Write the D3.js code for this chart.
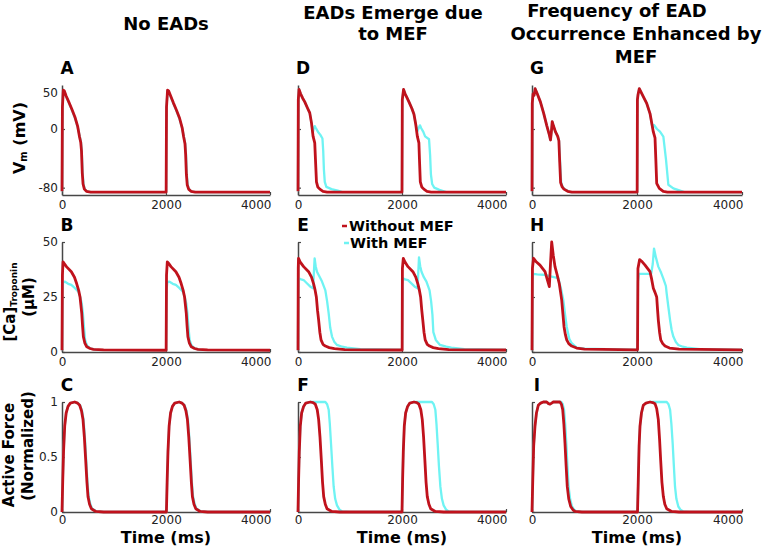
<!DOCTYPE html>
<html>
<head>
<meta charset="utf-8">
<script src="https://cdn.jsdelivr.net/npm/d3@7"></script>
<style>
  body { margin: 0; background: #fff; }
  text { font-family: "DejaVu Sans", sans-serif; }
</style>
</head>
<body>
<svg id="chart" width="767" height="546"></svg>
<script>
// ---- data ----
const timeTicks = [0, 2000, 4000]
const timeDomain = [0, 4000]
const vmDomain = [-90, 60]
const vmTicks = [-80, 0, 50]
const caDomain = [0, 50]
const caTicks = [0, 25, 50]
const forceDomain = [0, 1]
const forceTicks = [0, 0.5, 1]

const columnTitles = [
  ["No EADs"],
  ["EADs Emerge due", "to MEF"],
  ["Frequency of EAD", "Occurrence Enhanced by", "MEF"]
]
const panelLetters = [["A", "B", "C"], ["D", "E", "F"], ["G", "H", "I"]]
const legendLabels = ["Without MEF", "With MEF"]

// [time ms, Vm mV]
const vmNoEadRed = [[0,-85],[8,30],[25,53],[45,52],[80,45],[130,37],[190,27],[250,16],[300,4],[335,-10],[360,-18],[375,-30],[390,-60],[405,-75],[430,-82],[470,-85],[550,-86],
  [2003,-86],[2010,30],[2030,53],[2050,52],[2090,45],[2140,36],[2200,26],[2260,15],[2310,2],[2340,-11],[2365,-20],[2378,-35],[2392,-62],[2408,-76],[2435,-82],[2480,-85],[2560,-86],[4000,-86]]
const vmNoEadCyan = [[0,-85],[8,30],[25,52],[45,51],[80,44],[130,36],[190,26],[250,15],[300,3],[340,-10],[365,-18],[380,-30],[397,-60],[415,-76],[445,-83],[490,-85.5],[570,-86],
  [2003,-86],[2010,30],[2030,52],[2050,51],[2090,44],[2140,35],[2200,25],[2260,14],[2310,1],[2345,-11],[2370,-20],[2385,-35],[2400,-62],[2418,-77],[2450,-83],[2500,-85.5],[2580,-86],[4000,-86]]
const vmEmergeRed = [[0,-85],[6,40],[20,54],[50,48],[90,42],[130,37],[180,29],[226,22],[260,8],[290,-10],[322,-19],[335,-40],[355,-72],[380,-79],[420,-82],[480,-85],[560,-86],
  [2000,-86],[2006,40],[2030,54],[2060,48],[2100,42],[2140,36],[2190,28],[2230,20],[2265,6],[2295,-10],[2325,-19],[2335,-40],[2352,-72],[2380,-79],[2420,-82],[2480,-85],[2560,-86],[4000,-86]]
const vmEmergeCyan = [[0,-85],[6,40],[20,54],[50,48],[90,42],[130,37],[180,29],[226,22],[260,8],[285,-5],[300,0],[322,4],[345,1],[386,-4],[430,-8],[470,-13],[485,-30],[498,-55],[515,-72],[545,-79],[645,-82],[765,-84],[850,-86],
  [2000,-86],[2006,40],[2030,54],[2060,48],[2100,42],[2140,36],[2190,28],[2230,20],[2265,6],[2295,-3],[2320,1],[2345,5],[2370,1],[2410,-4],[2444,-10],[2520,-14],[2540,-35],[2556,-62],[2580,-75],[2620,-80],[2720,-83],[2850,-86],[4000,-86]]
const vmEnhancedRed = [[0,-85],[5,35],[20,48],[40,46],[60,55],[100,48],[160,37],[224,21],[280,5],[330,-8],[352,-15],[368,-5],[385,10],[410,4],[448,-4],[490,-10],[512,-16],[528,-45],[545,-73],[575,-79],[608,-82],[680,-85],[760,-86],
  [2003,-86],[2008,40],[2020,47],[2044,55],[2120,44],[2185,35],[2248,21],[2311,-4],[2343,-12],[2358,-40],[2375,-74],[2425,-81],[2500,-85],[2580,-86],[4000,-86]]
const vmEnhancedCyan = [[0,-85],[5,35],[20,48],[40,46],[60,55],[100,48],[160,37],[224,21],[280,5],[330,-8],[352,-15],[368,-5],[385,10],[410,4],[448,-4],[490,-10],[515,-16],[535,-45],[555,-73],[590,-80],[640,-83],[720,-86],
  [2003,-86],[2008,40],[2020,47],[2044,55],[2120,44],[2185,35],[2248,21],[2295,2],[2324,5.5],[2380,0],[2438,-3.6],[2502,-10.5],[2553,-42],[2597,-76],[2692,-81],[2820,-84],[2900,-86],[4000,-86]]

// [time ms, [Ca]Troponin uM]
const caNoEadRed = [[0,0.8],[8,35],[20,41],[50,40],[85,38.8],[180,36.5],[240,34],[283,31],[320,28],[347,25],[365,21],[380,17.6],[395,12],[411,7],[440,4],[476,2.4],[540,1.6],[604,1.2],[800,1],
  [2003,0.8],[2010,35],[2025,41],[2060,40],[2095,38.8],[2190,36.5],[2250,34],[2293,31],[2330,28],[2357,25],[2375,21],[2390,17.6],[2405,12],[2421,7],[2450,4],[2486,2.4],[2550,1.6],[2614,1.2],[2800,1],[4000,0.8]]
const caNoEadCyan = [[0,0.8],[8,28],[20,31.5],[50,32],[120,31],[180,30.5],[250,29],[315,27.4],[350,25],[380,22],[400,18],[420,12],[444,5.5],[480,3],[540,1.7],[650,1],
  [2003,0.8],[2010,28],[2025,31.5],[2060,32],[2130,31],[2190,30.5],[2260,29],[2325,27.4],[2360,25],[2390,22],[2410,18],[2430,12],[2454,5.5],[2490,3],[2550,1.7],[2660,1],[4000,0.8]]
const caEmergeRed = [[0,0.8],[5,38],[10,42.6],[40,41],[108,38.8],[204,36.5],[260,34],[300,31],[330,28],[353,25],[375,19],[397,14.5],[420,9],[443,5.5],[480,3.5],[526,2.7],[600,2],[700,1.5],[900,1.1],
  [2003,0.9],[2008,38],[2025,42.6],[2055,41],[2115,38.8],[2210,36.5],[2265,34],[2305,31],[2335,28],[2358,25],[2380,19],[2400,14.5],[2423,9],[2446,5.5],[2485,3.5],[2530,2.7],[2600,2],[2700,1.5],[2900,1.1],[4000,0.9]]
const caEmergeCyan = [[0,0.8],[5,30],[10,33.5],[60,33],[108,32.7],[180,31],[237,29.7],[290,29],[305,36],[320,42.6],[340,39],[365,36.5],[420,34],[462,32],[526,28],[560,23],[590,17.6],[620,11],[654,7],[700,4.5],[750,3.2],[850,2.4],[940,2],[1200,1.3],
  [2003,1],[2008,30],[2013,33.5],[2060,33],[2115,32.7],[2190,31],[2245,29.7],[2300,29],[2313,36],[2327,43],[2350,39],[2375,36.5],[2420,34],[2470,32],[2530,28],[2560,23],[2585,17],[2603,9],[2650,5.5],[2731,3.2],[2850,2.4],[2950,2],[3200,1.3],[4000,1]]
const caEnhancedRed = [[0,0.8],[8,38],[30,42.6],[80,41],[152,39.5],[200,38],[248,36.5],[290,33],[330,29.7],[352,40],[375,50],[405,44],[438,38.8],[480,35],[520,31],[545,27],[566,23.6],[590,17],[610,11.5],[635,8],[661,5.5],[700,3.8],[756,2.7],[850,1.8],[1000,1.3],
  [2010,1],[2018,38],[2050,42],[2100,41],[2153,39.5],[2200,38],[2248,36.5],[2280,33],[2311,29],[2345,27],[2375,25],[2392,19],[2406,14.5],[2430,9],[2452,5.5],[2490,3.8],[2534,2.7],[2620,1.8],[2800,1.3],[4000,1]]
const caEnhancedCyan = [[0,0.8],[8,32],[20,35.5],[100,35.3],[270,35],[330,34.5],[420,34],[500,33.6],[550,29],[596,23.6],[630,17],[661,11.5],[710,6],[756,4],[851,2],[1000,1.5],
  [2010,1],[2018,32],[2035,35.5],[2150,35.5],[2270,35.5],[2300,40],[2324,47],[2360,43],[2406,38.8],[2460,36],[2500,33.5],[2550,30],[2565,26.7],[2600,20],[2630,14.5],[2660,10],[2692,7],[2740,4.5],[2787,3.2],[2870,2.4],[2950,2],[3200,1.3],[4000,1]]

// [time ms, normalized active force]
const forceNoEadRed = [[0,0],[15,0.3],[30,0.55],[52,0.78],[80,0.9],[116,0.96],[160,0.99],[245,1],[300,0.99],[340,0.97],[375,0.92],[404,0.84],[430,0.68],[456,0.47],[480,0.27],[500,0.14],[530,0.07],[565,0.03],[650,0.005],[800,0],
  [2008,0],[2023,0.3],[2038,0.55],[2060,0.78],[2088,0.9],[2124,0.96],[2168,0.99],[2253,1],[2308,0.99],[2348,0.97],[2383,0.92],[2412,0.84],[2438,0.68],[2464,0.47],[2488,0.27],[2508,0.14],[2538,0.07],[2573,0.03],[2658,0.005],[2800,0],[4000,0]]
const forceNoEadCyan = [[0,0],[15,0.3],[30,0.55],[52,0.78],[80,0.9],[116,0.96],[160,0.99],[245,1],[305,0.99],[350,0.97],[385,0.92],[414,0.84],[440,0.68],[466,0.47],[490,0.27],[512,0.14],[545,0.07],[580,0.03],[665,0.005],[820,0],
  [2008,0],[2023,0.3],[2038,0.55],[2060,0.78],[2088,0.9],[2124,0.96],[2168,0.99],[2253,1],[2313,0.99],[2358,0.97],[2393,0.92],[2422,0.84],[2448,0.68],[2474,0.47],[2498,0.27],[2520,0.14],[2552,0.07],[2588,0.03],[2672,0.005],[2820,0],[4000,0]]
const forceEmergeRed = [[0,0],[12,0.3],[25,0.55],[44,0.78],[70,0.9],[108,0.96],[150,0.99],[237,1],[290,0.995],[333,0.98],[370,0.93],[397,0.84],[423,0.68],[449,0.47],[472,0.27],[494,0.14],[525,0.07],[558,0.03],[650,0.005],[800,0],
  [2000,0],[2012,0.3],[2025,0.55],[2044,0.78],[2070,0.9],[2108,0.96],[2150,0.99],[2230,1],[2285,0.995],[2325,0.98],[2362,0.93],[2390,0.84],[2415,0.68],[2440,0.47],[2463,0.27],[2486,0.14],[2518,0.07],[2552,0.03],[2640,0.005],[2800,0],[4000,0]]
const forceEmergeCyan = [[0,0],[12,0.3],[25,0.55],[44,0.78],[70,0.9],[108,0.96],[150,0.99],[237,1],[400,1],[526,1],[560,0.98],[590,0.93],[612,0.8],[635,0.62],[660,0.42],[686,0.23],[715,0.12],[750,0.06],[800,0.02],[850,0.005],[1000,0],
  [2000,0],[2012,0.3],[2025,0.55],[2044,0.78],[2070,0.9],[2108,0.96],[2150,0.99],[2230,1],[2400,1],[2577,1],[2610,0.98],[2641,0.93],[2663,0.8],[2686,0.62],[2710,0.42],[2738,0.23],[2768,0.12],[2801,0.06],[2850,0.02],[2900,0.005],[3050,0],[4000,0]]
const forceEnhancedRed = [[0,0],[15,0.3],[32,0.6],[57,0.78],[85,0.9],[120,0.97],[165,0.99],[215,1],[280,1],[315,0.985],[343,0.98],[375,0.99],[406,1],[480,1],[533,1],[560,0.98],[585,0.93],[607,0.8],[629,0.62],[650,0.42],[672,0.23],[700,0.12],[737,0.05],[780,0.02],[819,0.005],[950,0],
  [2010,0],[2025,0.3],[2040,0.6],[2057,0.78],[2085,0.9],[2120,0.97],[2170,0.99],[2248,1],[2300,0.995],[2343,0.985],[2375,0.94],[2406,0.84],[2430,0.66],[2451,0.47],[2475,0.27],[2502,0.14],[2530,0.07],[2566,0.03],[2660,0.005],[2800,0],[4000,0]]
const forceEnhancedCyan = [[0,0],[15,0.3],[32,0.6],[57,0.78],[85,0.9],[120,0.97],[165,0.99],[215,1],[280,1],[315,0.985],[343,0.98],[375,0.99],[406,1],[480,1],[560,1],[585,0.98],[610,0.93],[632,0.8],[654,0.62],[675,0.42],[697,0.23],[725,0.12],[762,0.05],[805,0.02],[845,0.005],[980,0],
  [2010,0],[2025,0.3],[2040,0.6],[2057,0.78],[2085,0.9],[2120,0.97],[2170,0.99],[2248,1],[2400,1],[2566,1],[2600,0.98],[2630,0.93],[2655,0.8],[2680,0.62],[2702,0.42],[2724,0.23],[2750,0.12],[2787,0.05],[2830,0.02],[2880,0.005],[3000,0],[4000,0]]

// ---- layout ----
const RED = "#c0121c"
const CYAN = "#6ff3f3"
const AXIS = "#474747"

const cols = [
  { x0: 62, w: 208 },
  { x0: 298, w: 208 },
  { x0: 532, w: 210 }
]
const rows = [
  { top: 85, bottom: 195, domain: vmDomain, ticks: vmTicks },
  { top: 242, bottom: 352, domain: caDomain, ticks: caTicks },
  { top: 402, bottom: 512, domain: forceDomain, ticks: forceTicks }
]
const traces = [
  [[vmNoEadRed, vmNoEadCyan], [caNoEadRed, caNoEadCyan], [forceNoEadRed, forceNoEadCyan]],
  [[vmEmergeRed, vmEmergeCyan], [caEmergeRed, caEmergeCyan], [forceEmergeRed, forceEmergeCyan]],
  [[vmEnhancedRed, vmEnhancedCyan], [caEnhancedRed, caEnhancedCyan], [forceEnhancedRed, forceEnhancedCyan]]
]

// plain hyphen minus like the original figure
const plainNum = d => String(d)

const svg = d3.select("#chart")

cols.forEach((c, ci) => {
  const x = d3.scaleLinear().domain(timeDomain).range([c.x0, c.x0 + c.w])

  rows.forEach((r, ri) => {
    const y = d3.scaleLinear().domain(r.domain).range([r.bottom, r.top])
    const g = svg.append("g")

    // x axis
    const xa = g.append("g")
      .attr("transform", "translate(0," + r.bottom + ")")
      .call(d3.axisBottom(x).tickValues(timeTicks).tickFormat(plainNum)
        .tickSizeInner(-3).tickSizeOuter(0).tickPadding(ri === 2 ? 3 : 5))
    xa.selectAll("text")
      .attr("font-size", 12).attr("fill", "#222")
      .attr("text-anchor", (d, i) => i === timeTicks.length - 1 ? "end" : "middle")
      .attr("dx", (d, i) => i === timeTicks.length - 1 ? 1 : 0)

    // y axis
    const ya = g.append("g")
      .attr("transform", "translate(" + c.x0 + ",0)")
      .call(d3.axisLeft(y).tickValues(r.ticks)
        .tickFormat(ci === 0 ? plainNum : "")
        .tickSizeInner(-3).tickSizeOuter(0).tickPadding(4))
    ya.selectAll("text").attr("font-size", 12).attr("fill", "#222")

    g.selectAll(".domain").attr("stroke", AXIS).attr("stroke-width", 1.5)
    g.selectAll(".tick line").attr("stroke", AXIS).attr("stroke-width", 1.2)

    const line = d3.line().x(d => x(d[0])).y(d => y(d[1]))
    const [redData, cyanData] = traces[ci][ri]

    g.append("path").datum(cyanData)
      .attr("d", line).attr("fill", "none")
      .attr("stroke", CYAN).attr("stroke-width", 2.3).attr("stroke-linejoin", "round")
    g.append("path").datum(redData)
      .attr("d", line).attr("fill", "none")
      .attr("stroke", RED).attr("stroke-width", 2.8).attr("stroke-linejoin", "round")

    // panel letter
    svg.append("text")
      .attr("x", c.x0 + 5).attr("y", r.top - 11)
      .attr("text-anchor", "middle")
      .attr("font-size", 17).attr("font-weight", "bold")
      .text(panelLetters[ci][ri])
  })

  // bottom axis title
  svg.append("text")
    .attr("x", x(2000)).attr("y", 543)
    .attr("text-anchor", "middle")
    .attr("font-size", 16).attr("font-weight", "bold")
    .text("Time (ms)")
})

// column titles
const titlePos = [
  [[166, 30]],
  [[393, 19], [393, 40]],
  [[617, 17], [636, 40], [636, 63]]
]
columnTitles.forEach((lines, ci) => {
  lines.forEach((t, li) => {
    svg.append("text")
      .attr("x", titlePos[ci][li][0]).attr("y", titlePos[ci][li][1])
      .attr("text-anchor", "middle")
      .attr("font-size", 18).attr("font-weight", "bold")
      .text(t)
  })
})

// y axis titles (rotated)
const vmLabel = svg.append("text")
  .attr("transform", "translate(19,138) rotate(-90)")
  .attr("text-anchor", "middle").attr("dominant-baseline", "central")
  .attr("font-size", 16).attr("font-weight", "bold")
vmLabel.append("tspan").text("V")
vmLabel.append("tspan").attr("font-size", 10).attr("dy", 4).text("m")
vmLabel.append("tspan").attr("dy", -4).text(" (mV)")

const caLabel = svg.append("text")
  .attr("transform", "translate(10,302) rotate(-90)")
  .attr("text-anchor", "middle").attr("dominant-baseline", "central")
  .attr("font-size", 15).attr("font-weight", "bold")
caLabel.append("tspan").text("[Ca]")
caLabel.append("tspan").attr("font-size", 9).attr("dy", 4).text("Troponin")
svg.append("text")
  .attr("transform", "translate(29,297) rotate(-90)")
  .attr("text-anchor", "middle").attr("dominant-baseline", "central")
  .attr("font-size", 15).attr("font-weight", "bold")
  .text("(\u03bcM)")

svg.append("text")
  .attr("transform", "translate(9,455) rotate(-90)")
  .attr("text-anchor", "middle").attr("dominant-baseline", "central")
  .attr("font-size", 15).attr("font-weight", "bold")
  .text("Active Force")
svg.append("text")
  .attr("transform", "translate(28,446) rotate(-90)")
  .attr("text-anchor", "middle").attr("dominant-baseline", "central")
  .attr("font-size", 15).attr("font-weight", "bold")
  .text("(Normalized)")

// legend
const legend = svg.append("g")
const legendRows = [{ y: 226, color: RED }, { y: 243, color: CYAN }]
legendLabels.forEach((label, i) => {
  legend.append("line")
    .attr("x1", 342 + i * 2).attr("x2", 347 + i * 2)
    .attr("y1", legendRows[i].y).attr("y2", legendRows[i].y)
    .attr("stroke", legendRows[i].color).attr("stroke-width", 2.5)
  legend.append("text")
    .attr("x", 349 + i).attr("y", legendRows[i].y + 5)
    .attr("font-size", 14.5).attr("font-weight", "bold")
    .text(label)
})
</script>
</body>
</html>
